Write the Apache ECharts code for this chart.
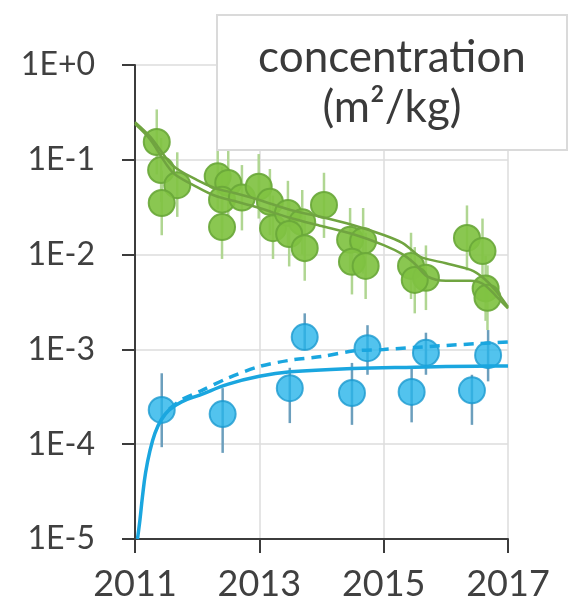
<!DOCTYPE html>
<html><head><meta charset="utf-8">
<script src="https://cdn.jsdelivr.net/npm/echarts@6/dist/echarts.min.js"></script>
<style>html,body{margin:0;padding:0;background:#fff}#c{width:574px;height:612px}</style>
</head><body><div id="c"></div><script>
// ---- data ----
const baseYear = 2011;
const xTickLabels = ['2011', '2013', '2015', '2017'];
const yTickLabels = ['1E-5', '1E-4', '1E-3', '1E-2', '1E-1', '1E+0'];

const greenYears = [2011.35, 2011.42, 2011.68, 2011.43, 2012.33, 2012.50, 2012.40, 2012.40, 2012.72, 2012.99, 2013.17, 2013.22, 2013.46, 2013.69, 2013.48, 2013.73, 2014.04, 2014.46, 2014.67, 2014.49, 2014.71, 2015.44, 2015.68, 2015.50, 2016.34, 2016.59, 2016.64, 2016.67];
const greenValues = [0.154, 0.078, 0.054, 0.035, 0.067, 0.057, 0.038, 0.0195, 0.040, 0.052, 0.036, 0.019, 0.0275, 0.022, 0.0165, 0.0117, 0.0334, 0.0143, 0.0139, 0.0084, 0.0076, 0.0076, 0.0057, 0.0054, 0.015, 0.0109, 0.0044, 0.0035];
const greenLow = [0.07, 0.036, 0.025, 0.016, 0.03, 0.026, 0.017, 0.009, 0.018, 0.024, 0.016, 0.009, 0.012, 0.010, 0.0075, 0.0053, 0.015, 0.0065, 0.0063, 0.0038, 0.0034, 0.0034, 0.0026, 0.0024, 0.0068, 0.005, 0.002, 0.0016];
const greenHigh = [0.34, 0.17, 0.12, 0.077, 0.15, 0.125, 0.084, 0.043, 0.088, 0.115, 0.08, 0.042, 0.06, 0.048, 0.036, 0.026, 0.073, 0.031, 0.031, 0.018, 0.017, 0.017, 0.0125, 0.012, 0.033, 0.024, 0.0097, 0.0077];

const greenFitAYears = [2011.0, 2011.25, 2011.6, 2012.0, 2012.3, 2012.6, 2013.0, 2013.5, 2014.0, 2014.5, 2015.0, 2015.3, 2015.45, 2015.6, 2016.0, 2016.4, 2016.6, 2016.8, 2017.0];
const greenFitAValues = [0.250, 0.174, 0.088, 0.061, 0.050, 0.0446, 0.0377, 0.0295, 0.0249, 0.0205, 0.0161, 0.0133, 0.0112, 0.0094, 0.0081, 0.0069, 0.0057, 0.0042, 0.0028];
const greenFitBYears = [2011.0, 2011.25, 2011.6, 2012.0, 2012.3, 2012.6, 2013.0, 2013.5, 2014.0, 2014.5, 2015.0, 2015.3, 2015.5, 2015.7, 2016.0, 2016.4, 2016.6, 2016.8, 2017.0];
const greenFitBValues = [0.239, 0.162, 0.0743, 0.0516, 0.0415, 0.0367, 0.031, 0.0243, 0.020, 0.0165, 0.0126, 0.0101, 0.0080, 0.0059, 0.0053, 0.0053, 0.0049, 0.0037, 0.0027];

const blueYears = [2011.43, 2012.41, 2013.49, 2013.73, 2014.49, 2014.74, 2015.45, 2015.68, 2016.42, 2016.68];
const blueValues = [2.3e-4, 2.08e-4, 3.9e-4, 1.35e-3, 3.47e-4, 1.03e-3, 3.56e-4, 9.2e-4, 3.7e-4, 8.7e-4];
const blueLow = [9.3e-5, 8.1e-5, 1.67e-4, 9.9e-4, 1.6e-4, 5.4e-4, 1.7e-4, 5.4e-4, 1.6e-4, 4.6e-4];
const blueHigh = [5.6e-4, 3.9e-4, 6.4e-4, 2.4e-3, 7.2e-4, 1.8e-3, 6.4e-4, 1.5e-3, 5.4e-4, 1.6e-3];

const blueFitSolidYears = [2011.04, 2011.08, 2011.12, 2011.17, 2011.24, 2011.32, 2011.42, 2011.55, 2011.75, 2012.04, 2012.5, 2013.0, 2013.5, 2014.5, 2015.5, 2016.5, 2017.0];
const blueFitSolidValues = [1.0e-5, 1.6e-5, 2.8e-5, 5.0e-5, 8.5e-5, 1.3e-4, 1.8e-4, 2.3e-4, 2.8e-4, 3.3e-4, 4.3e-4, 5.2e-4, 5.8e-4, 6.3e-4, 6.5e-4, 6.65e-4, 6.7e-4];
const blueFitDashYears = [2011.55, 2011.75, 2012.04, 2012.5, 2013.0, 2013.5, 2014.0, 2014.5, 2015.0, 2015.5, 2016.0, 2016.5, 2017.0];
const blueFitDashValues = [2.35e-4, 2.95e-4, 3.6e-4, 5.0e-4, 6.6e-4, 7.7e-4, 8.4e-4, 9.6e-4, 1.0e-3, 1.05e-3, 1.1e-3, 1.15e-3, 1.2e-3];

const titleLines = ['concentration', '(m\u00B2/kg)'];

// ---- build ----
function pairs(xs, ys) { return xs.map((x, i) => [x - baseYear, ys[i]]); }
function bars(xs, lo, hi) { return xs.map((x, i) => [x - baseYear, lo[i], hi[i]]); }
function errRender(color) {
  return function (params, api) {
    const a = api.coord([api.value(0), api.value(1)]);
    const b = api.coord([api.value(0), api.value(2)]);
    return { type: 'line', shape: { x1: a[0], y1: a[1], x2: b[0], y2: b[1] }, style: { stroke: color, lineWidth: 2.5 } };
  };
}
const FONT = 'Lato';
const chart = echarts.init(document.getElementById('c'));
chart.setOption({
  animation: false,
  backgroundColor: '#fff',
  grid: { left: 135, right: 66, top: 65, bottom: 73 },
  xAxis: {
    type: 'value', min: 0, max: 6, interval: 2,
    axisLine: { lineStyle: { color: '#3c3c3c', width: 2 } },
    axisTick: { show: true, length: 14, lineStyle: { color: '#3c3c3c', width: 2 } },
    axisLabel: { margin: 27, fontSize: 36, fontFamily: FONT, color: '#404040',
      formatter: v => xTickLabels[Math.round(v / 2)] },
    splitLine: { show: true, lineStyle: { color: '#dcdcdc', width: 1.5 } }
  },
  yAxis: {
    type: 'log', logBase: 10, min: 1e-5, max: 1,
    axisLine: { show: true, lineStyle: { color: '#3c3c3c', width: 2 } },
    axisTick: { show: true, length: 13, lineStyle: { color: '#3c3c3c', width: 2 } },
    axisLabel: { margin: 40, fontSize: 32, fontFamily: FONT, color: '#404040',
      formatter: v => yTickLabels[Math.round(Math.log10(v)) + 5] },
    splitLine: { show: true, lineStyle: { color: '#dcdcdc', width: 1.5 } }
  },
  graphic: [
    { type: 'rect', x: 217, y: 15, shape: { width: 350, height: 135 }, style: { fill: '#fff', stroke: '#dadada', lineWidth: 2 }, z: 100 },
    { type: 'text', x: 392, y: 58, z: 101, style: { text: titleLines[0], align: 'center', verticalAlign: 'middle', fontSize: 44, fontFamily: FONT, fill: '#3a3a3a' } },
    { type: 'text', x: 392, y: 108, z: 101, style: { text: titleLines[1], align: 'center', verticalAlign: 'middle', fontSize: 44, fontFamily: FONT, fill: '#3a3a3a' } }
  ],
  series: [
    { type: 'custom', data: bars(greenYears, greenLow, greenHigh), renderItem: errRender('#b0d692'), encode: { x: 0, y: [1, 2] }, z: 1, clip: true },
    { type: 'custom', data: bars(blueYears, blueLow, blueHigh), renderItem: errRender('#6c9fbd'), encode: { x: 0, y: [1, 2] }, z: 1, clip: true },
    { type: 'scatter', data: pairs(greenYears, greenValues), symbolSize: 26, z: 2,
      itemStyle: { color: '#80c242', borderColor: '#6aa83a', borderWidth: 2, opacity: 0.92 } },
    { type: 'scatter', data: pairs(blueYears, blueValues), symbolSize: 26, z: 2,
      itemStyle: { color: '#27b4ea', borderColor: '#1c9ad0', borderWidth: 2 } },
    { type: 'line', data: pairs(greenFitAYears, greenFitAValues), smooth: 0.3, showSymbol: false, z: 3,
      lineStyle: { color: '#70a440', width: 2.5 } },
    { type: 'line', data: pairs(greenFitBYears, greenFitBValues), smooth: 0.3, showSymbol: false, z: 3,
      lineStyle: { color: '#70a440', width: 2.5 } },
    { type: 'line', data: pairs(blueFitSolidYears, blueFitSolidValues), smooth: 0.4, showSymbol: false, z: 3,
      lineStyle: { color: '#1aa6df', width: 3.5 } },
    { type: 'line', data: pairs(blueFitDashYears, blueFitDashValues), smooth: 0.3, showSymbol: false, z: 3,
      lineStyle: { color: '#1aa6df', width: 3.5, type: [10, 7] } }
  ]
});
</script></body></html>
